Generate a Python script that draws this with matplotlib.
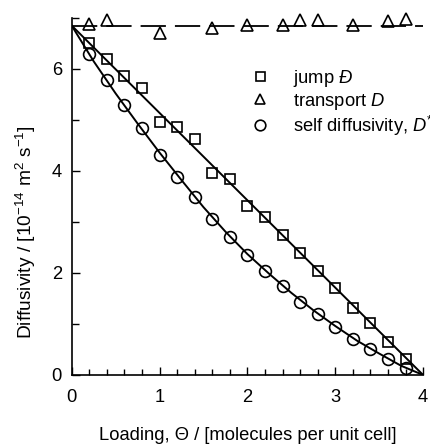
import matplotlib
matplotlib.use("Agg")
import matplotlib.pyplot as plt
from matplotlib.ticker import MultipleLocator

plt.rcParams['font.family'] = ['Liberation Sans', 'DejaVu Sans']
plt.rcParams['mathtext.fontset'] = 'custom'
plt.rcParams['mathtext.rm'] = 'Liberation Sans'
plt.rcParams['mathtext.it'] = 'Liberation Sans:italic'

# loading, molecules per unit cell
jump_x = [0.2, 0.4, 0.6, 0.8, 1.0, 1.2, 1.4, 1.6, 1.8, 2.0, 2.2, 2.4, 2.6, 2.8, 3.0, 3.2, 3.4, 3.6, 3.8]
jump_y = [6.50, 6.19, 5.86, 5.62, 4.95, 4.86, 4.62, 3.95, 3.84, 3.32, 3.09, 2.75, 2.39, 2.04, 1.71, 1.31, 1.01, 0.65, 0.31]

transport_x = [0.2, 0.4, 1.0, 1.6, 2.0, 2.4, 2.6, 2.8, 3.2, 3.6, 3.8]
transport_y = [6.88, 6.96, 6.70, 6.80, 6.86, 6.87, 6.96, 6.95, 6.87, 6.94, 6.98]

self_x = [0.2, 0.4, 0.6, 0.8, 1.0, 1.2, 1.4, 1.6, 1.8, 2.0, 2.2, 2.4, 2.6, 2.8, 3.0, 3.2, 3.4, 3.6, 3.8]
self_y = [6.29, 5.78, 5.29, 4.84, 4.31, 3.89, 3.48, 3.06, 2.70, 2.35, 2.04, 1.75, 1.44, 1.19, 0.95, 0.70, 0.50, 0.31, 0.13]

# model lines
jump_line_x = [0, 4]
jump_line_y = [6.85, 0]
transport_line_x = [0, 4]
transport_line_y = [6.85, 6.85]
self_line_x = [0, 0.25, 0.5, 0.75, 1.0, 1.25, 1.5, 1.75, 2.0, 2.25, 2.5, 2.75, 3.0, 3.25, 3.5, 3.75, 4.0]
self_line_y = [6.85, 6.15, 5.52, 4.93, 4.36, 3.82, 3.29, 2.81, 2.37, 1.98, 1.61, 1.27, 0.96, 0.67, 0.42, 0.18, 0.0]

fig = plt.figure(figsize=(4.3, 4.48), dpi=100)
ax = fig.add_axes([0.1667, 0.163, 0.8173, 0.797])

ax.plot(jump_line_x, jump_line_y, color='black', lw=1.4)
ax.plot(self_line_x, self_line_y, color='black', lw=1.4)
ax.plot(transport_line_x, transport_line_y, color='black', lw=1.3, dashes=(14, 5))

ms_kw = dict(linestyle='none', markerfacecolor='none', markeredgecolor='black',
             markeredgewidth=1.2, clip_on=False)
ax.plot(jump_x, jump_y, marker='s', markersize=7.2, label=r'jump $\mathit{Đ}$', **ms_kw)
ax.plot(transport_x, transport_y, marker='^', markersize=8, label=r'transport $\mathit{D}$', **ms_kw)
ax.plot(self_x, self_y, marker='o', markersize=8.5, label=r'self diffusivity, $\mathit{D}^{*}$', **ms_kw)

ax.set_xlim(0, 4)
ax.set_ylim(0, 7)
ax.xaxis.set_major_locator(MultipleLocator(1))
ax.xaxis.set_minor_locator(MultipleLocator(0.2))
ax.yaxis.set_major_locator(MultipleLocator(2))
ax.yaxis.set_minor_locator(MultipleLocator(1))
ax.tick_params(which='both', direction='in', width=1, labelsize=13.2)
ax.tick_params(axis='x', which='major', length=6, pad=10)
ax.tick_params(axis='x', which='minor', length=4)
ax.tick_params(axis='y', which='major', length=6, pad=7)
ax.tick_params(axis='y', which='minor', length=5)
for s in ['top', 'right']:
    ax.spines[s].set_visible(False)
for s in ['left', 'bottom']:
    ax.spines[s].set_linewidth(1.2)

ax.set_xlabel('Loading, Θ / [molecules per unit cell]', fontsize=13.2, labelpad=15)
ax.set_ylabel(r'Diffusivity / [10$^{-14}$ m$^{2}$ s$^{-1}$]', fontsize=13.8)
ax.yaxis.set_label_coords(-0.095, 0.40)

ax.legend(loc='upper left', bbox_to_anchor=(0.51, 0.86), frameon=False, fontsize=13.2,
          handlelength=1.0, handletextpad=1.3, borderpad=0, borderaxespad=0,
          labelspacing=0.1, markerscale=0.9)

fig.savefig('out.png', dpi=100)
